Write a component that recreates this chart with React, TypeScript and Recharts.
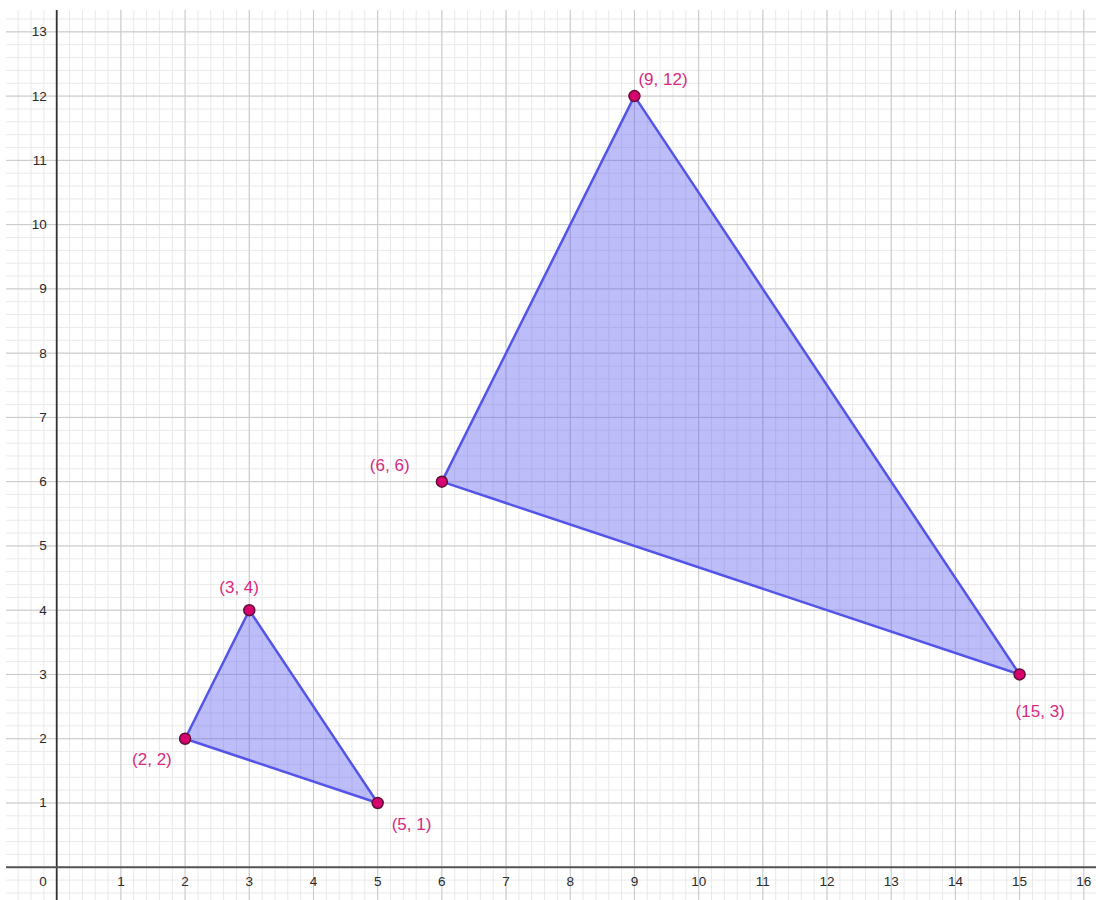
import { ScatterChart, Scatter, XAxis, YAxis, CartesianGrid, ReferenceLine } from 'recharts'

const X_TICKS = [1, 2, 3, 4, 5, 6, 7, 8, 9, 10, 11, 12, 13, 14, 15, 16]
const Y_TICKS = [1, 2, 3, 4, 5, 6, 7, 8, 9, 10, 11, 12, 13]
const ORIGIN_LABEL = '0'

const smallTriangle = [
  { x: 2, y: 2, label: '(2, 2)' },
  { x: 3, y: 4, label: '(3, 4)' },
  { x: 5, y: 1, label: '(5, 1)' },
]

const bigTriangle = [
  { x: 6, y: 6, label: '(6, 6)' },
  { x: 9, y: 12, label: '(9, 12)' },
  { x: 15, y: 3, label: '(15, 3)' },
]

const X_DOMAIN: [number, number] = [-0.79, 16.19]
const Y_DOMAIN: [number, number] = [-0.51, 13.34]

// grid lines every 0.2 (minor) and every 1 (major)
function range(from: number, to: number, step: number) {
  const out: number[] = []
  for (let i = Math.ceil(from / step - 1e-9); i * step <= to + 1e-9; i++) out.push(+(i * step).toFixed(2))
  return out
}
const xMinor = range(X_DOMAIN[0], X_DOMAIN[1], 0.2)
const yMinor = range(Y_DOMAIN[0], Y_DOMAIN[1], 0.2)
const xMajor = range(X_DOMAIN[0], X_DOMAIN[1], 1)
const yMajor = range(Y_DOMAIN[0], Y_DOMAIN[1], 1)

const xLabelPts = X_TICKS.map(v => ({ x: v, y: 0, label: String(v) }))
const yLabelPts = Y_TICKS.map(v => ({ x: 0, y: v, label: String(v) }))
const originPts = [{ x: 0, y: 0, label: ORIGIN_LABEL }]

// where each point label sits relative to its point (px)
const labelOffset: Record<string, [number, number]> = {
  '(2, 2)': [-53, 26],
  '(3, 4)': [-30, -17],
  '(5, 1)': [14, 27],
  '(6, 6)': [-72, -11],
  '(9, 12)': [4, -11],
  '(15, 3)': [-4, 43],
}

const FONT = '"Liberation Sans", Arial, sans-serif'
const PINK = '#d62a80'

const Vertex = (props: any) => {
  const { cx, cy, payload } = props
  const [dx, dy] = labelOffset[payload.label] || [0, 0]
  return (
    <g>
      <circle cx={cx} cy={cy} r={5.5} fill="#d8006e" stroke="#5e0f37" strokeWidth={1.5} />
      <text x={cx + dx} y={cy + dy} fill={PINK} fontSize={17} fontFamily={FONT}>{payload.label}</text>
    </g>
  )
}

const triangleShape = (p: any) => {
  const pts = p.points as { x: number; y: number }[]
  const d = pts.map((pt, i) => `${i ? 'L' : 'M'}${pt.x},${pt.y}`).join(' ') + ' Z'
  return <path d={d} fill="#5a5af0" fillOpacity={0.4} stroke="#5454e8" strokeWidth={2.5} strokeLinejoin="round" />
}

const XTickText = (props: any) => (
  <text x={props.cx} y={props.cy + 19} textAnchor="middle" fill="#2a2a2a" fontSize={13.5} fontFamily={FONT}>{props.payload.label}</text>
)
const YTickText = (props: any) => (
  <text x={props.cx - 10} y={props.cy + 4.5} textAnchor="end" fill="#2a2a2a" fontSize={13.5} fontFamily={FONT}>{props.payload.label}</text>
)
const OriginText = (props: any) => (
  <text x={props.cx - 10} y={props.cy + 19} textAnchor="end" fill="#2a2a2a" fontSize={13.5} fontFamily={FONT}>{props.payload.label}</text>
)

export default function App() {
  return (
    <div style={{ position: 'absolute', left: 0, top: 0, background: '#fff' }}>
      <ScatterChart width={1096} height={900} margin={{ top: 10, left: 6, right: 0, bottom: 0 }}>
        <XAxis xAxisId="x" dataKey="x" type="number" domain={X_DOMAIN} ticks={xMajor} interval={0} allowDataOverflow hide />
        <YAxis yAxisId="y" dataKey="y" type="number" domain={Y_DOMAIN} ticks={yMajor} interval={0} allowDataOverflow hide />

        <CartesianGrid xAxisId="x" yAxisId="y" verticalValues={xMinor} horizontalValues={yMinor} stroke="#e9e9e9" strokeWidth={1} />
        <CartesianGrid xAxisId="x" yAxisId="y" verticalValues={xMajor} horizontalValues={yMajor} stroke="#c9c9c9" strokeWidth={1} />

        <ReferenceLine xAxisId="x" yAxisId="y" x={0} stroke="#333" strokeWidth={1.8} />
        <ReferenceLine xAxisId="x" yAxisId="y" y={0} stroke="#555" strokeWidth={1.8} />

        <Scatter xAxisId="x" yAxisId="y" data={xLabelPts} shape={XTickText} isAnimationActive={false} />
        <Scatter xAxisId="x" yAxisId="y" data={yLabelPts} shape={YTickText} isAnimationActive={false} />
        <Scatter xAxisId="x" yAxisId="y" data={originPts} shape={OriginText} isAnimationActive={false} />

        <Scatter xAxisId="x" yAxisId="y" data={smallTriangle} line={triangleShape} shape={Vertex} isAnimationActive={false} />
        <Scatter xAxisId="x" yAxisId="y" data={bigTriangle} line={triangleShape} shape={Vertex} isAnimationActive={false} />
      </ScatterChart>
    </div>
  )
}
